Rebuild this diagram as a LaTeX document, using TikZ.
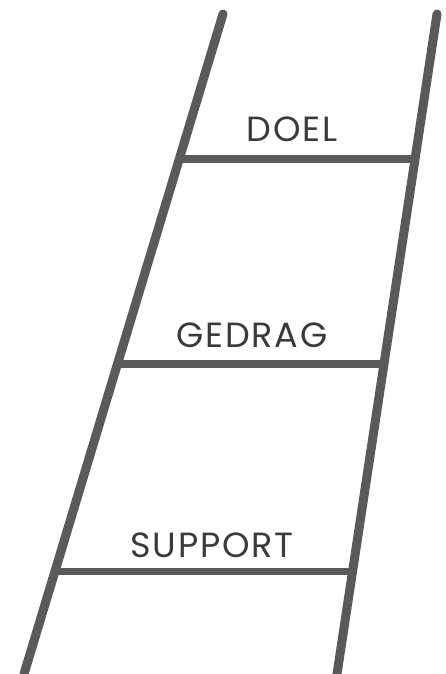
\documentclass[tikz,border=0pt]{standalone}
\usepackage{fontspec}
\setmainfont[LetterSpace=5]{Poppins}
\usetikzlibrary{calc}

\definecolor{laddergray}{HTML}{5A5A5A}
\definecolor{textgray}{HTML}{3A3A3A}

\begin{document}
\begin{tikzpicture}[x=1pt, y=-1pt,
    rail/.style={line width=9pt, color=laddergray, line cap=round},
    rung/.style={line width=7.5pt, color=laddergray},
    steplabel/.style={font=\fontsize{35}{38}\selectfont, text=textgray, inner sep=0pt}]
    % Canvas
    \useasboundingbox (0,0) rectangle (446,674);
    % Rail end points
    \coordinate (LT) at (223,14);
    \coordinate (LB) at (24,674);
    \coordinate (RT) at (437,14);
    \coordinate (RB) at (337,674);
    % Rails
    \draw[rail] (LT) -- (LB);
    \draw[rail] (RT) -- (RB);
    % Rungs
    \foreach \t/\n in {0.220/1, 0.530/2, 0.845/3}
    {
        \coordinate (L\n) at ($(LT)!\t!(LB)$);
        \coordinate (R\n) at ($(RT)!\t!(RB)$);
        \draw[rung] (L\n) -- (R\n);
    }
    % Labels
    \node[steplabel] (doel) at (292,129) {DOEL};
    \node[steplabel] (gedrag) at (252,335) {GEDRAG};
    \node[steplabel] (support) at (212,545) {SUPPORT};
\end{tikzpicture}
\end{document}
